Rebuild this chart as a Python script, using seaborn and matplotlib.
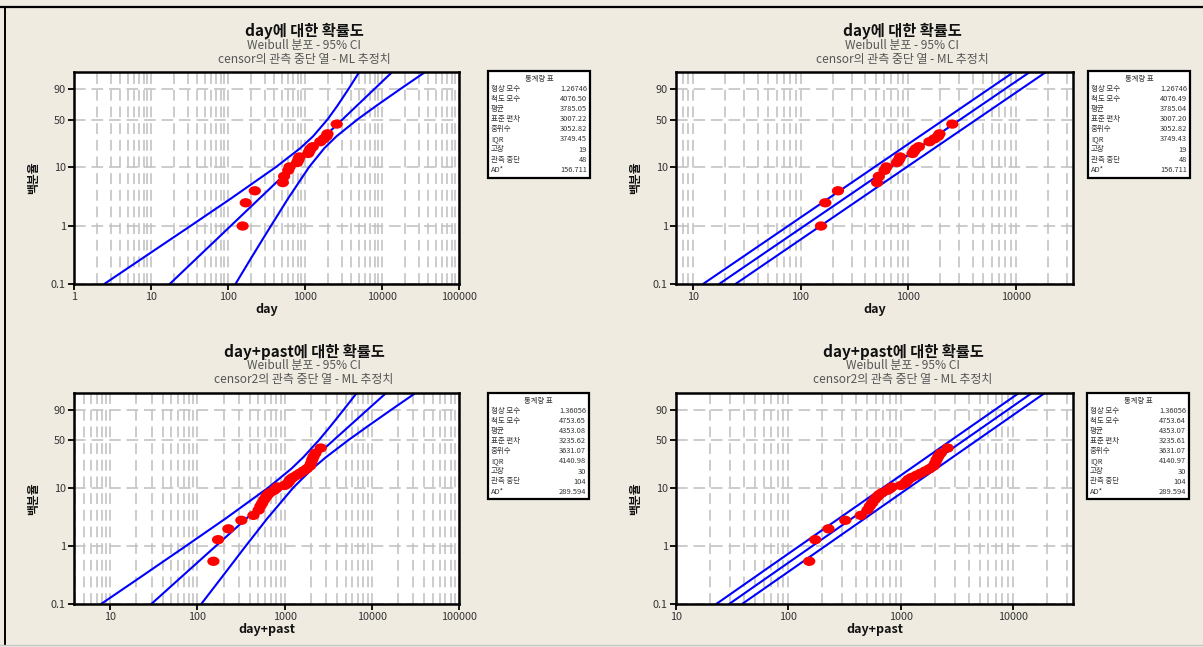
import numpy as np
import pandas as pd
import matplotlib
matplotlib.use("Agg")
import matplotlib.pyplot as plt
import seaborn as sns
from matplotlib.path import Path
from matplotlib.transforms import Affine2D
from matplotlib.lines import Line2D
from matplotlib.patches import Rectangle
from matplotlib.ticker import FixedLocator, NullFormatter, LogLocator

sns.set_theme(style="white")
plt.rcParams["font.family"] = ["Noto Sans CJK KR", "DejaVu Sans"]

# ---------------- data ----------------
# failure points (x value, cumulative percent)
day_x = [155, 170, 223, 515, 535, 605, 630, 790, 820, 845, 1100, 1140, 1180,
         1260, 1580, 1750, 1900, 1960, 2580]
day_p = [1.0, 2.5, 4.0, 5.5, 7.0, 8.8, 10.0, 11.8, 13.0, 14.5, 16.5, 18.0,
         19.5, 21.0, 25.0, 27.5, 30.0, 32.5, 44.0]

dp_x = [153, 173, 227, 320, 440, 505, 530, 555, 585, 615, 640, 680, 760, 800,
        830, 1000, 1080, 1130, 1170, 1250, 1380, 1500, 1650, 1800, 1950, 2020,
        2080, 2150, 2260, 2600]
dp_p = [0.55, 1.3, 2.0, 2.8, 3.4, 4.2, 4.9, 5.5, 6.3, 7.0, 7.6, 8.2, 9.0, 9.6,
        10.2, 10.8, 11.6, 12.6, 13.6, 14.6, 15.8, 17.0, 18.5, 20.0, 22.0, 24.5,
        27.5, 30.5, 34.0, 40.0]

# fitted line (x at 0.1 % and 99 %)
fit_levels = [0.1, 99]
day_fit = [17.5, 13580]
dp_fit = [29.7, 14600]

# wide confidence bands (left panels)
wide_levels = [0.1, 0.3, 1, 3, 10, 20, 30, 50, 70, 90, 99]
tl_lo = [2.47, 8.43, 32.5, 111, 421, 871, 1274, 1954, 2636, 3644, 5070]
tl_hi = [125, 206, 360, 607, 1132, 1786, 2565, 4775, 8453, 17000, 36400]
bl_lo = [7.89, 22.9, 73.2, 211, 654, 1197, 1652, 2466, 3340, 4702, 6720]
bl_hi = [111, 194, 357, 633, 1264, 2081, 3006, 5346, 8887, 16370, 31720]

# narrow confidence bands (right panels)
narrow_levels = [0.1, 1, 10, 50, 90, 99]
tr_lo = [12.4, 76.6, 489, 2163, 5572, 9616]
tr_hi = [24.8, 153, 975, 4315, 11117, 19190]
br_lo = [22.8, 124, 698, 2786, 6734, 11200]
br_hi = [38.7, 211, 1185, 4732, 11430, 19030]

y_ticks = [0.1, 1, 10, 50, 90]
y_tick_labels = ["0.1", "1", "10", "50", "90"]

stat_labels = ["형상 모수", "척도 모수", "평균", "표준 편차", "중위수", "IQR",
               "고장", "관측 중단", "AD*"]
stats_tl = ["1.26746", "4076.50", "3785.05", "3007.22", "3052.82", "3749.45", "19", "48", "156.711"]
stats_tr = ["1.26746", "4076.49", "3785.04", "3007.20", "3052.82", "3749.43", "19", "48", "156.711"]
stats_bl = ["1.36056", "4753.65", "4353.08", "3235.62", "3631.07", "4140.98", "30", "104", "289.594"]
stats_br = ["1.36056", "4753.64", "4353.07", "3235.61", "3631.07", "4140.97", "30", "104", "289.594"]

titles = ["day에 대한 확률도", "day+past에 대한 확률도"]
sub1 = "Weibull 분포 - 95% CI"
sub2 = ["censor의 관측 중단 열 - ML 추정치", "censor2의 관측 중단 열 - ML 추정치"]
xlabels = ["day", "day+past"]

# ---------------- layout ----------------
W, H = 1203, 647
BG = "#EFEBE1"
fig = plt.figure(figsize=(W / 100, H / 100), dpi=100, facecolor=BG)


def fx(x):
    return x / W


def fy(y):
    return 1 - y / H


def fwd(p):
    p = np.clip(np.asarray(p, dtype=float), 1e-6, 100 - 1e-9)
    return np.log(-np.log(1 - p / 100.0))


def inv(w):
    return 100.0 * (1 - np.exp(-np.exp(w)))


ellipse = Path.unit_circle().transformed(Affine2D().scale(1.0, 0.76))

panels = [
    dict(box=(74, 72, 459, 284), xlim=(1, 1e5), xticks=[1, 10, 100, 1000, 10000, 100000],
         px=day_x, pp=day_p, fit=day_fit, lv=wide_levels, lo=tl_lo, hi=tl_hi,
         title=titles[0], sub2=sub2[0], xlabel=xlabels[0], tcx=304, ty=(31, 45, 60),
         sbox=(488, 71, 590, 178), stats=stats_tl),
    dict(box=(676, 72, 1073, 284), xlim=(6.95, 34200), xticks=[10, 100, 1000, 10000],
         px=day_x, pp=day_p, fit=day_fit, lv=narrow_levels, lo=tr_lo, hi=tr_hi,
         title=titles[0], sub2=sub2[0], xlabel=xlabels[0], tcx=902, ty=(31, 45, 60),
         sbox=(1088, 71, 1190, 178), stats=stats_tr),
    dict(box=(74, 393, 459, 604), xlim=(3.86, 1e5), xticks=[10, 100, 1000, 10000, 100000],
         px=dp_x, pp=dp_p, fit=dp_fit, lv=wide_levels, lo=bl_lo, hi=bl_hi,
         title=titles[1], sub2=sub2[1], xlabel=xlabels[1], tcx=304, ty=(352, 366, 380),
         sbox=(488, 393, 589, 499), stats=stats_bl),
    dict(box=(676, 393, 1073, 604), xlim=(10, 33900), xticks=[10, 100, 1000, 10000],
         px=dp_x, pp=dp_p, fit=dp_fit, lv=narrow_levels, lo=br_lo, hi=br_hi,
         title=titles[1], sub2=sub2[1], xlabel=xlabels[1], tcx=903, ty=(352, 366, 380),
         sbox=(1087, 393, 1189, 499), stats=stats_br),
]

GRID = "#C3C3C3"
BLUE = "#0000FF"
RED = "#FF0000"

for P in panels:
    l, t, r, b = P["box"]
    ax = fig.add_axes([fx(l), fy(b), (r - l) / W, (b - t) / H])
    ax.set_facecolor("white")

    # fitted line and confidence bands
    for xs, ps in [(P["lo"], P["lv"]), (P["hi"], P["lv"]), (P["fit"], fit_levels)]:
        df = pd.DataFrame({"x": xs, "p": ps})
        sns.lineplot(data=df, x="x", y="p", sort=False, estimator=None,
                     color=BLUE, lw=1.5, ax=ax, zorder=3)
    # failure points
    pts = pd.DataFrame({"x": P["px"], "p": P["pp"]})
    sns.scatterplot(data=pts, x="x", y="p", color=RED, marker=ellipse, s=78,
                    edgecolor="none", linewidth=0, ax=ax, zorder=4)

    ax.set_xscale("log")
    ax.set_yscale("function", functions=(fwd, inv))
    ax.set_xlim(*P["xlim"])
    ax.set_ylim(0.1, 99)

    ax.xaxis.set_major_locator(FixedLocator(P["xticks"]))
    ax.xaxis.set_minor_locator(LogLocator(base=10, subs=np.arange(2, 10), numticks=30))
    ax.xaxis.set_minor_formatter(NullFormatter())
    ax.set_xticklabels([str(v) for v in P["xticks"]])
    ax.yaxis.set_major_locator(FixedLocator(y_ticks))
    ax.yaxis.set_minor_locator(FixedLocator([]))
    ax.set_yticklabels(y_tick_labels)

    ax.grid(True, which="both", axis="x", color=GRID, lw=1.2, ls=(0, (6.5, 3.5)), zorder=1)
    ax.grid(True, which="major", axis="y", color=GRID, lw=1.2, ls=(0, (7, 3.5)), zorder=1)
    ax.set_axisbelow(True)

    ax.tick_params(axis="both", which="major", direction="out", length=4, width=1.3,
                   color="black", labelsize=7.8, labelcolor="#333333", pad=2,
                   bottom=True, left=True)
    ax.tick_params(axis="both", which="minor", length=0)
    for s in ax.spines.values():
        s.set_color("black")
        s.set_linewidth(1.8)
        s.set_zorder(5)

    ax.set_xlabel(P["xlabel"], fontsize=9, fontweight="bold", color="#111111", va="center")
    ax.xaxis.set_label_coords(0.5, -26.0 / (b - t))
    ax.set_ylabel("백분율", fontsize=8.5, fontweight="bold", color="#111111", va="center")
    ax.yaxis.set_label_coords(-40.0 / (r - l), 0.5)

    # titles
    fig.text(fx(P["tcx"]), fy(P["ty"][0]), P["title"], ha="center", va="center",
             fontsize=11, fontweight="bold", color="#111111")
    fig.text(fx(P["tcx"]), fy(P["ty"][1]), sub1, ha="center", va="center",
             fontsize=8.6, color="#555555")
    fig.text(fx(P["tcx"]), fy(P["ty"][2]), P["sub2"], ha="center", va="center",
             fontsize=8.6, color="#555555")

    # statistics box
    bx0, by0, bx1, by1 = P["sbox"]
    fig.add_artist(Rectangle((fx(bx0), fy(by1)), (bx1 - bx0) / W, (by1 - by0) / H,
                             transform=fig.transFigure, facecolor="white",
                             edgecolor="black", linewidth=1.6))
    fig.text(fx((bx0 + bx1) / 2), fy(by0 + 7.5), "통계량 표", ha="center", va="center",
             fontsize=5.3, color="#333333")
    offs = [18, 28, 38, 48, 58, 68, 78.5, 88.5, 99.3]
    for lab, val, o in zip(stat_labels, P["stats"], offs):
        fig.text(fx(bx0 + 3), fy(by0 + o), lab, ha="left", va="center",
                 fontsize=5.4, color="#333333")
        fig.text(fx(bx1 - 3), fy(by0 + o), val, ha="right", va="center",
                 fontsize=5.4, color="#333333")

# figure frame lines
fig.add_artist(Line2D([0, 1], [fy(7), fy(7)], transform=fig.transFigure, color="black", lw=1.6))
fig.add_artist(Line2D([fx(5), fx(5)], [fy(645), fy(7)], transform=fig.transFigure, color="black", lw=1.4))
fig.add_artist(Line2D([0, 1], [fy(645), fy(645)], transform=fig.transFigure, color="#C8C8C8", lw=1.0))

fig.savefig("out.png", dpi=100, facecolor=fig.get_facecolor())
